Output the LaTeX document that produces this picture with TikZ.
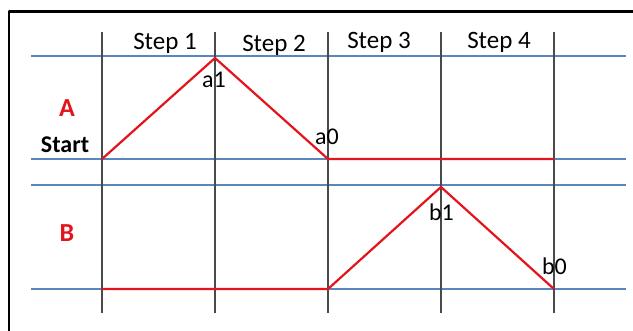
\documentclass[tikz,border=0pt]{standalone}
\usepackage{fontspec}
\setmainfont{Carlito}
\usetikzlibrary{positioning}
\definecolor{gridblue}{HTML}{5B86BD}
\definecolor{pathred}{HTML}{E3141B}
\definecolor{gridgrey}{HTML}{4A4A4A}
\tikzset{
    every picture/.style={line join=round},
    hline/.style={draw=gridblue,line width=1.3pt},
    vline/.style={draw=gridgrey,line width=0.7pt},
    signal/.style={draw=pathred,line width=1.1pt},
    steplabel/.style={font=\fontsize{12.5}{14}\selectfont,inner sep=0pt,anchor=base},
    pointlabel/.style={font=\fontsize{12}{14}\selectfont,inner sep=0pt,anchor=base},
    rowlabel/.style={font=\fontsize{13}{15}\selectfont\bfseries,text=pathred,
      inner sep=0pt,anchor=base}
}

\begin{document}
\begin{tikzpicture}[x=0.5pt,y=-0.5pt]
  \useasboundingbox (0,0) rectangle (633,331);
  % only the top and left edge of the frame are in view
  \draw[line width=1.1pt] (9,331) coordinate (frameBL) -- (9,11.5) coordinate (frameTL)
    -- (633,11.5) coordinate (frameTR);
  \foreach \y/\name in {56/top,159/mid,185/low,289/base}
    \draw[hline] (31,\y) coordinate (\name W) -- (626,\y) coordinate (\name E);
  \foreach \i/\x in {0/102,1/215,2/328,3/441,4/554}
    \draw[vline] (\x,32) coordinate (col\i T) -- (\x,313) coordinate (col\i B);
  \foreach \i/\x/\y in {1/165/50,2/274/52,3/379/49,4/499/49}
    \node[steplabel] (step\i) at (\x,\y) {Step \i};

  % row A
  \node[rowlabel] (rowA) at (67,117) {A};
  \node[pointlabel,font=\fontsize{12}{14}\selectfont\bfseries] (start) at (65,153) {Start};
  \coordinate (startA) at (102,159);
  \coordinate (peakA) at (215,58);
  \coordinate (downA) at (328,159);
  \coordinate (endA) at (554,159);
  \draw[signal] (startA) -- (peakA) -- (downA) -- (endA);
  \node[pointlabel] (a1) at (214,88) {a1};
  \node[pointlabel] (a0) at (327,145) {a0};

  % row B
  \node[rowlabel] (rowB) at (67,242) {B};
  \coordinate (startB) at (102,289);
  \coordinate (riseB) at (328,289);
  \coordinate (peakB) at (441,187);
  \coordinate (endB) at (554,289);
  \draw[signal] (startB) -- (riseB) -- (peakB) -- (endB);
  \node[pointlabel] (b1) at (441.5,221) {b1};
  \node[pointlabel] (b0) at (554.5,275) {b0};
\end{tikzpicture}
\end{document}
